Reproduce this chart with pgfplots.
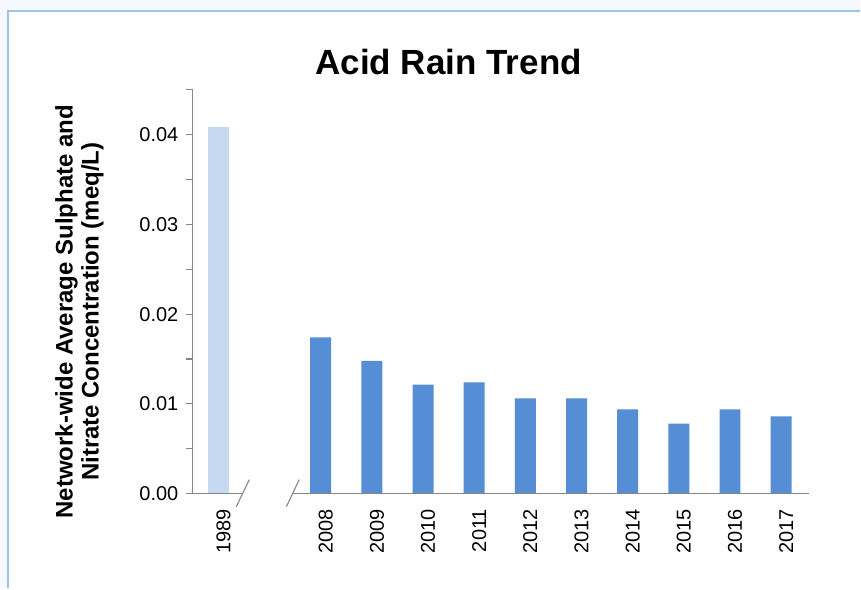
\documentclass[border=0pt]{standalone}
\usepackage{pgfplots}
\pgfplotsset{compat=1.18}
\usepackage{fontspec}
\setmainfont{Liberation Sans}
\definecolor{barlight}{HTML}{C6D9F1}
\definecolor{bardark}{HTML}{558ED5}
\definecolor{axgray}{HTML}{868686}
\definecolor{framebl}{HTML}{9DC3E6}
\definecolor{outbg}{HTML}{F5F8FC}
\begin{document}
\begin{tikzpicture}
% page background and frame
\fill[outbg] (0pt,0pt) rectangle (861pt,589pt);
\fill[white] (8pt,0pt) rectangle (861pt,578pt);
\draw[framebl, line width=1.5pt] (8pt,0pt) -- (8pt,578pt) -- (861pt,578pt);

\begin{axis}[
  at={(193pt,95pt)}, anchor=south west,
  scale only axis, width=617pt, height=404pt,
  xmin=-0.5, xmax=11.55, ymin=0, ymax=0.045,
  clip=false,
  axis y line*=left, axis x line*=bottom,
  x axis line style={draw=none},
  y axis line style={axgray, line width=1.3pt},
  tick label style={font=\fontsize{20}{22}\selectfont},
  xtick={0,2,3,4,5,6,7,8,9,10,11},
  xticklabels={1989,2008,2009,2010,2011,2012,2013,2014,2015,2016,2017},
  xtick style={draw=none},
  xticklabel style={rotate=90, anchor=east, xshift=-5pt, yshift=-5pt},
  ytick={0,0.01,0.02,0.03,0.04},
  yticklabels={0.00,0.01,0.02,0.03,0.04},
  scaled y ticks=false,
  minor ytick={0.005,0.015,0.025,0.035,0.045},
  tick align=outside,
  major tick length=7pt, minor tick length=7pt,
  ytick style={axgray, line width=1.1pt},
  yticklabel style={xshift=-4pt},
]
\addplot[ybar, bar width=0.41, fill=barlight, draw=none] coordinates {(0,0.0409)};
\addplot[ybar, bar width=0.41, fill=bardark, draw=none] coordinates {
  (2,0.0174) (3,0.0148) (4,0.01215) (5,0.0124) (6,0.0106)
  (7,0.0106) (8,0.0094) (9,0.0078) (10,0.0094) (11,0.0086)};
% broken x axis
\draw[axgray, line width=1.3pt] (axis cs:-0.5,0) -- (axis cs:0.48,0);
\draw[axgray, line width=1.3pt] (axis cs:1.455,0) -- (axis cs:11.55,0);
\draw[axgray, line width=1.1pt] (axis cs:0.35,-0.00145) -- (axis cs:0.605,0.00156);
\draw[axgray, line width=1.1pt] (axis cs:1.33,-0.00145) -- (axis cs:1.58,0.00156);
\end{axis}

\node[anchor=base, font=\fontsize{35}{40}\selectfont\bfseries] at (449pt,514pt) {Acid Rain Trend};
\node[rotate=90, align=center, font=\fontsize{24}{26}\selectfont\bfseries] at (79.5pt,277pt)
  {Network-wide Average Sulphate and\\Nitrate Concentration (meq/L)};
\end{tikzpicture}
\end{document}
